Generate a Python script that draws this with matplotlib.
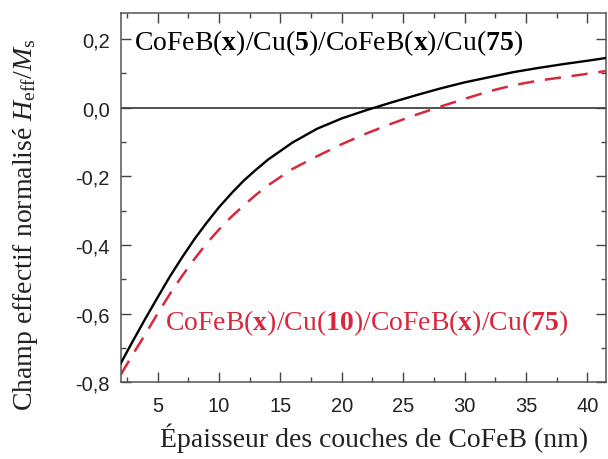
import numpy as np
import matplotlib
matplotlib.use("Agg")
import matplotlib.pyplot as plt
from matplotlib.ticker import MultipleLocator, FuncFormatter

# épaisseur CoFeB (nm) et champ effectif normalisé
x_cu5 = [2, 3, 4, 5, 6, 7, 8, 9, 10, 11, 12, 13, 14, 16, 18, 20, 22, 24, 26, 28,
         30, 32, 34, 36, 38, 40, 41.5]
h_cu5 = [-0.745, -0.679, -0.615, -0.553, -0.492, -0.436, -0.383, -0.335, -0.290,
         -0.250, -0.213, -0.181, -0.151, -0.101, -0.061, -0.031, -0.007, 0.015,
         0.036, 0.056, 0.074, 0.089, 0.104, 0.116, 0.127, 0.137, 0.145]

x_cu10 = [2, 3, 4, 5, 6, 7, 8, 9, 10, 11, 12, 13, 14, 16, 18, 20, 22, 24, 26, 28,
          30, 32, 34, 36, 38, 40, 41.5]
h_cu10 = [-0.778, -0.718, -0.660, -0.600, -0.543, -0.490, -0.441, -0.395, -0.355,
          -0.318, -0.285, -0.254, -0.226, -0.178, -0.141, -0.106, -0.075, -0.047,
          -0.021, 0.003, 0.026, 0.048, 0.066, 0.079, 0.089, 0.099, 0.107]

label_cu5 = r'$\mathrm{CoFeB(}\mathbf{x}\mathrm{)/Cu(}\mathbf{5}\mathrm{)/CoFeB(}\mathbf{x}\mathrm{)/Cu(}\mathbf{75}\mathrm{)}$'
label_cu10 = r'$\mathrm{CoFeB(}\mathbf{x}\mathrm{)/Cu(}\mathbf{10}\mathrm{)/CoFeB(}\mathbf{x}\mathrm{)/Cu(}\mathbf{75}\mathrm{)}$'

plt.rcParams['mathtext.fontset'] = 'custom'
plt.rcParams['mathtext.rm'] = 'Liberation Serif'
plt.rcParams['mathtext.bf'] = 'Liberation Serif:bold'
plt.rcParams['mathtext.it'] = 'Liberation Serif:italic'

red = '#d8283c'
serif = 'Liberation Serif'

fig = plt.figure(figsize=(6.08, 4.60), dpi=100)
ax = fig.add_axes([0.1985, 0.1667, 0.7979, 0.802])

ax.axhline(0, color='#222222', lw=1.1, zorder=1)
ax.plot(x_cu5, h_cu5, color='black', lw=1.7, zorder=3)
ax.plot(x_cu10, h_cu10, color=red, lw=1.8, dashes=(6.5, 4.3), zorder=2)

ax.set_xlim(2, 41.5)
ax.set_ylim(-0.8, 0.275)

ax.xaxis.set_major_locator(MultipleLocator(5))
ax.xaxis.set_minor_locator(MultipleLocator(2.5))
ax.yaxis.set_major_locator(MultipleLocator(0.2))
ax.yaxis.set_minor_locator(MultipleLocator(0.1))
ax.yaxis.set_major_formatter(FuncFormatter(lambda v, p: ('%.1f' % v).replace('.', ',')))
ax.xaxis.set_major_formatter(FuncFormatter(lambda v, p: '%d' % v))

ax.tick_params(which='both', direction='in', top=True, right=True, color='#444444')
ax.tick_params(which='major', length=7, width=1.0, labelsize=14.5, pad=8,
               labelcolor='#222222')
ax.tick_params(which='minor', length=3.5, width=1.0)
ax.tick_params(axis='x', which='major', pad=10)
for lab in ax.get_xticklabels() + ax.get_yticklabels():
    lab.set_family('Liberation Sans')
for s in ax.spines.values():
    s.set_color('#555555')
    s.set_linewidth(1.1)

ax.text(0.027, 0.19, label_cu5, transform=ax.get_yaxis_transform(), fontsize=20,
        color='black', va='center', ha='left')
ax.text(5.6, -0.625, label_cu10, fontsize=20, color=red, va='center', ha='left')

ax.set_xlabel('Épaisseur des couches de CoFeB (nm)', family=serif, fontsize=20,
              color='#222222', va='center')
ax.xaxis.set_label_coords(0.522, -0.15)
ax.set_ylabel(r'Champ effectif normalisé $H_{\mathrm{eff}}/M_{\mathrm{s}}$', family=serif,
              fontsize=20, color='#222222', va='center')
ax.yaxis.set_label_coords(-0.197, 0.43)

fig.savefig('out.png', dpi=100)
